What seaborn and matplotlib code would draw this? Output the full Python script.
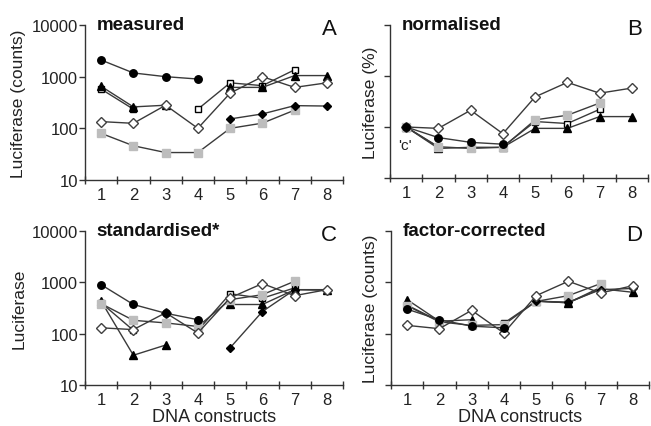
import numpy as np
import pandas as pd
import matplotlib
matplotlib.use("Agg")
import matplotlib.pyplot as plt
import seaborn as sns

nan = np.nan
constructs = [1, 2, 3, 4, 5, 6, 7, 8]
series_names = ["open_square", "triangle", "gray_square", "black_diamond", "open_diamond", "circle"]

# Panel A: measured
A_circle = [2100, 1180, 1000, 900, nan, nan, nan, nan]
A_triangle = [650, 260, 280, nan, 620, 620, 1050, 1050]
A_open_square = [575, 235, nan, 235, 760, 670, 1360, nan]
A_black_diamond = [nan, nan, nan, nan, 152, 190, 275, 270]
A_gray_square = [80, 46, 34, 34, 100, 126, 225, nan]
A_open_diamond = [135, 125, 280, 100, 480, 1000, 620, 760]

# Panel B: normalised (%)
B_circle = [100, 62, 50, 46, nan, nan, nan, nan]
B_triangle = [100, 38, 40, 40, 94, 94, 160, 160]
B_open_square = [100, 40, nan, 41, 128, 117, 222, nan]
B_black_diamond = [nan] * 8
B_gray_square = [100, 41, 38, 40, 138, 170, 295, nan]
B_open_diamond = [100, 94, 213, 74, 390, 750, 460, 580]

# Panel C: standardised*
C_circle = [900, 370, 250, 187, nan, nan, nan, nan]
C_triangle = [430, 38, 60, nan, 370, 370, 720, 700]
C_open_square = [400, 116, nan, 116, 600, 490, 780, nan]
C_black_diamond = [nan, nan, nan, nan, 53, 270, 720, 720]
C_gray_square = [385, 182, 162, 138, 460, 575, 1050, nan]
C_open_diamond = [130, 120, 255, 103, 500, 945, 550, 720]

# Panel D: factor-corrected
D_circle = [300, 187, 140, 130, nan, nan, nan, nan]
D_triangle = [460, 175, 187, nan, 430, 400, 750, 640]
D_open_square = [360, 175, nan, 160, 430, 400, 800, nan]
D_black_diamond = [nan, nan, nan, nan, 430, 410, 720, 760]
D_gray_square = [350, 170, 145, 150, 425, 550, 945, nan]
D_open_diamond = [145, 125, 285, 103, 550, 1050, 620, 860]

panels = [
    ("measured", "A", "Luciferase (counts)", True, False,
     dict(circle=A_circle, triangle=A_triangle, open_square=A_open_square,
          black_diamond=A_black_diamond, gray_square=A_gray_square, open_diamond=A_open_diamond)),
    ("normalised", "B", "Luciferase (%)", False, False,
     dict(circle=B_circle, triangle=B_triangle, open_square=B_open_square,
          black_diamond=B_black_diamond, gray_square=B_gray_square, open_diamond=B_open_diamond)),
    ("standardised*", "C", "Luciferase", True, True,
     dict(circle=C_circle, triangle=C_triangle, open_square=C_open_square,
          black_diamond=C_black_diamond, gray_square=C_gray_square, open_diamond=C_open_diamond)),
    ("factor-corrected", "D", "Luciferase (counts)", False, True,
     dict(circle=D_circle, triangle=D_triangle, open_square=D_open_square,
          black_diamond=D_black_diamond, gray_square=D_gray_square, open_diamond=D_open_diamond)),
]

styles = {
    "circle": dict(marker="o", ms=5.4, mfc="black", mec="black"),
    "triangle": dict(marker="^", ms=5.8, mfc="black", mec="black"),
    "open_square": dict(marker="s", ms=4.8, mfc="white", mec="black"),
    "black_diamond": dict(marker="D", ms=3.6, mfc="black", mec="black"),
    "gray_square": dict(marker="s", ms=5.2, mfc="#bdbdbd", mec="#bdbdbd"),
    "open_diamond": dict(marker="D", ms=4.6, mfc="white", mec="#404040"),
}

sns.set_theme(style="ticks")
plt.rcParams["font.family"] = ["Liberation Sans", "DejaVu Sans"]

fig = plt.figure(figsize=(6.51, 4.27), dpi=100)
W, H = 651, 427
rects = [(85, 26, 343, 181), (390, 26, 648, 179), (85, 232, 343, 386), (391, 232, 649, 386)]

for (title, letter, ylabel, show_ylabels, show_xlabel, data), (l, t, r, b) in zip(panels, rects):
    ax = fig.add_axes([l / W, 1 - b / H, (r - l) / W, (b - t) / H])
    rows = []
    for name in series_names:
        vals = data[name]
        seg = 0
        prev_nan = True
        for x, v in zip(constructs, vals):
            if np.isnan(v):
                prev_nan = True
                continue
            if prev_nan:
                seg += 1
            prev_nan = False
            rows.append(dict(series=name, x=x, y=v, seg=f"{name}_{seg}"))
    df = pd.DataFrame(rows)
    for name in series_names:
        sub = df[df["series"] == name]
        if sub.empty:
            continue
        st = styles[name]
        sns.lineplot(data=sub, x="x", y="y", units="seg", estimator=None, ax=ax,
                     color="#3a3a3a", linewidth=1.0, marker=st["marker"],
                     markersize=st["ms"], markerfacecolor=st["mfc"],
                     markeredgecolor=st["mec"], markeredgewidth=1.0, legend=False)
    ax.set_yscale("log")
    ax.set_ylim(10, 10000)
    ax.set_xlim(0.5, 8.5)
    ax.set_yticks([10, 100, 1000, 10000])
    ax.minorticks_off()
    if show_ylabels:
        ax.set_yticklabels(["10", "100", "1000", "10000"])
    else:
        ax.set_yticklabels([])
    ax.set_xticks([0.5, 1.5, 2.5, 3.5, 4.5, 5.5, 6.5, 7.5, 8.5])
    ax.set_xticklabels([])
    ax.set_xticks(constructs, minor=True)
    ax.set_xticklabels([str(c) for c in constructs], minor=True)
    ax.tick_params(axis="x", which="major", direction="inout", length=6, width=1, color="#333333")
    ax.tick_params(axis="x", which="minor", length=0, labelsize=12, pad=5, labelcolor="#222222")
    ax.tick_params(axis="y", which="major", direction="out", length=4, width=1,
                   color="#333333", labelsize=12, pad=1, labelcolor="#222222")
    for s in ["top", "right"]:
        ax.spines[s].set_visible(False)
    for s in ["left", "bottom"]:
        ax.spines[s].set_color("#333333")
        ax.spines[s].set_linewidth(1.0)
    ax.set_xlabel("DNA constructs" if show_xlabel else "", fontsize=13, color="#222222", labelpad=1)
    ax.set_ylabel(ylabel, fontsize=12.5, color="#222222", labelpad=4)
    ax.text(0.045, 1.0, title, transform=ax.transAxes, fontsize=13.5, fontweight="bold",
            ha="left", va="center", color="#111111")
    ax.text(0.975, 0.98, letter, transform=ax.transAxes, fontsize=16,
            ha="right", va="center", color="#111111")
    if letter == "B":
        ax.text(0.97, 45, "'c'", fontsize=11, ha="center", va="center", color="#222222")
    for ln in ax.lines:
        ln.set_clip_on(False)

fig.savefig("out.png", dpi=100)
